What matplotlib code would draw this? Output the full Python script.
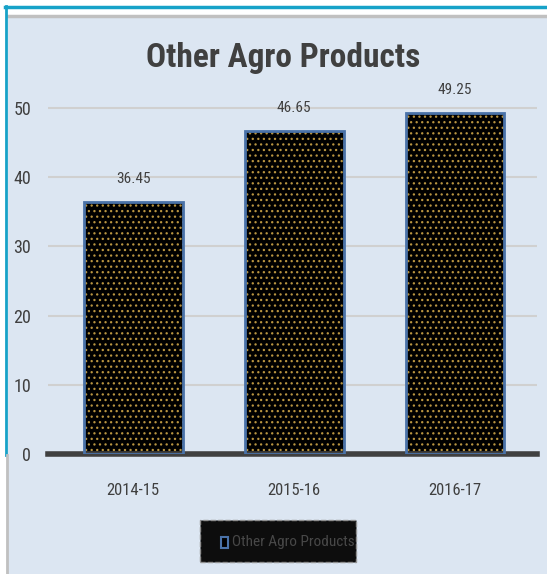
import matplotlib.pyplot as plt
from matplotlib.lines import Line2D
from matplotlib.patches import Rectangle
from matplotlib import font_manager

years = ["2014-15", "2015-16", "2016-17"]
values = [36.45, 46.65, 49.25]
series_name = "Other Agro Products"

names = {f.name for f in font_manager.fontManager.ttflist}
fam = [n for n in ["Liberation Sans Narrow", "Roboto Condensed", "Noto Sans Condensed",
                   "Liberation Sans"] if n in names] + ["DejaVu Sans"]
plt.rcParams['font.family'] = fam
plt.rcParams['hatch.linewidth'] = 0.9

W, H = 547, 574
fig = plt.figure(figsize=(W / 100, H / 100), dpi=100)
fig.patch.set_facecolor("white")

def px(x, y):
    return x / W, 1 - y / H

# panel background and frame
x0, y0 = px(8, 574)
fig.add_artist(Rectangle((x0, y0), 1 - x0, (574 - 17) / H, transform=fig.transFigure,
                         facecolor="#dce6f2", edgecolor="none", zorder=0))
fig.add_artist(Line2D([8 / W, 1], [1 - 16 / H] * 2, color="#c0c0c0", lw=2.5))
fig.add_artist(Line2D([5 / W, 1], [1 - 6.5 / H] * 2, color="#17a2c8", lw=2.5))
fig.add_artist(Line2D([6 / W] * 2, [1 - 5.5 / H, 1 - 455 / H], color="#17a2c8", lw=2))
fig.add_artist(Line2D([7 / W] * 2, [1 - 455 / H, 0], color="#c0c0c0", lw=2))

ax = fig.add_axes([48 / W, 1 - 454 / H, (537 - 48) / W, (454 - 73.4) / H])
ax.set_facecolor("none")
xs = range(len(years))
bw = 0.615
ax.bar(xs, values, width=bw, color="black", hatch="...", edgecolor="#b89440", linewidth=0, zorder=2)
ax.bar(xs, values, width=bw, color="none", edgecolor="#4a72a8", linewidth=2, zorder=3)

for x, v in zip(xs, values):
    ax.text(x, v + 2.3, f"{v:g}", ha="center", va="bottom", fontsize=11, color="#404040")

ax.set_xlim(-0.53, 2.51)
ax.set_ylim(0, 55)
ax.set_yticks([0, 10, 20, 30, 40, 50])
ax.set_xticks(list(xs))
ax.set_xticklabels(years)
ax.yaxis.grid(True, color="#d0d0d0", lw=1.5)
ax.set_axisbelow(True)
for s in ["top", "right", "left"]:
    ax.spines[s].set_visible(False)
ax.spines["bottom"].set_color("#404040")
ax.spines["bottom"].set_linewidth(4)
ax.tick_params(axis="y", length=0, labelsize=13, colors="#404040", pad=12)
ax.tick_params(axis="x", length=0, labelsize=12, colors="#404040", pad=21)

fig.text(283 / W, 1 - 58 / H, "Other Agro Products", ha="center", va="center",
         fontsize=24, color="#404040", fontweight="bold")

# legend box
lx, ly = px(200, 562)
fig.add_artist(Rectangle((lx, ly), 156 / W, 42 / H, transform=fig.transFigure,
                         facecolor="#0d0d0d", edgecolor="#909090", linestyle="--", lw=1, zorder=5))
fig.add_artist(Rectangle(px(221, 548), 7 / W, 11 / H, transform=fig.transFigure,
                         facecolor="black", edgecolor="#4a72a8", lw=1.5, zorder=6))
fig.text(232 / W, 1 - 542 / H, series_name, ha="left", va="center", fontsize=11,
         color="#484848", zorder=7)

fig.savefig("out.png", dpi=100)
